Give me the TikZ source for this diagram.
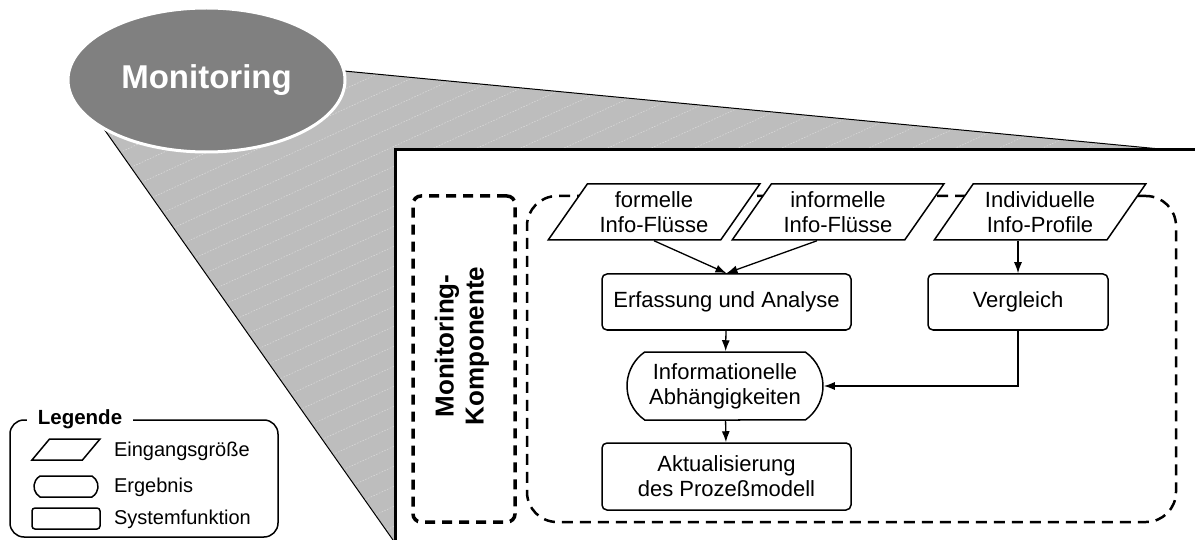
\documentclass[tikz,border=0pt]{standalone}
\usepackage{fontspec}
\setmainfont{Liberation Sans}
\usetikzlibrary{arrows.meta,shapes.geometric,shapes.misc}

\begin{document}
\begin{tikzpicture}[x=1pt, y=-1pt,
  font=\fontsize{22}{25}\selectfont,
  line width=1.5pt,
  keil/.style={fill=black!26},
  schraffur/.style={draw=black!15, line width=0.6pt, dash pattern=on 1.5pt off 1.5pt},
  titel/.style={ellipse, fill=black!50, draw=white, line width=3pt, text=white,
                minimum width=277, minimum height=144, font=\fontsize{33}{38}\selectfont\bfseries},
  eingang/.style={trapezium, trapezium left angle=53, trapezium right angle=127, trapezium stretches=true,
                  draw, fill=white, align=center, minimum width=212, minimum height=56, inner sep=1pt},
  sysfkt/.style={draw, fill=white, rounded corners=5pt, align=center, minimum height=56},
  ergebnis/.style={rounded rectangle, rounded rectangle arc length=110, draw, fill=white, align=center,
                   minimum width=200, minimum height=68, inner sep=2pt},
  komprahmen/.style={draw, line width=3.5pt, dash pattern=on 10pt off 7pt, rounded corners=8pt},
  bereich/.style={draw, line width=2.5pt, dash pattern=on 11pt off 7pt, rounded corners=30pt},
  pfeil/.style={-{Latex[length=11pt, width=8pt]}, line width=1.3pt}
]
\useasboundingbox (0,0) rectangle (1195,540);
\fill[keil] (344,71) -- (1160,149) -- (395,149) -- (395,540) -- (393,540) -- (104,129) -- cycle;
\begin{scope}
  \clip (344,71) -- (1160,149) -- (395,149) -- (395,540) -- (393,540) -- (104,129) -- cycle;
  \foreach \k in {0,...,52}
    \draw[schraffur] (60,60+\k*20) -- ++(1200,-552);
\end{scope}
\draw[line width=1pt] (344,71) -- (1160,149);
\draw[line width=1pt] (104,129) -- (393,540);
\fill[white] (395,150) rectangle (1195,540);
\draw[line width=3pt] (1195,150) -- (395,150) -- (395,540);
\node[titel] (mon) at (206.5,80) {Monitoring};

\node[komprahmen, minimum width=102, minimum height=326] (komp) at (464,359) {};
\node[rotate=90, align=center, font=\fontsize{26}{30}\selectfont\bfseries] (kompname) at (462,346) {Monitoring-\\Komponente};
\node[bereich, minimum width=649, minimum height=326] (ber) at (851.5,359) {};

\node[eingang] (formell) at (654,212) {formelle\\Info-Flüsse};
\node[eingang] (informell) at (838,212) {informelle\\Info-Flüsse};
\node[eingang] (individ) at (1040,212) {Individuelle\\Info-Profile};
\node[sysfkt, minimum width=249] (erfassung) at (726.5,302) {Erfassung und Analyse};
\node[sysfkt, minimum width=180] (vergleich) at (1018,302) {Vergleich};
\node[ergebnis] (abhaeng) at (725,386) {Informationelle\\Abhängigkeiten};
\node[sysfkt, minimum width=249, minimum height=67] (aktual) at (726.5,476.5) {Aktualisierung\\des Prozeßmodell};

\draw[pfeil] (formell.south) -- (erfassung.north);
\draw[pfeil] ([xshift=-21pt]informell.south) -- (erfassung.north);
\draw[pfeil] (individ.south -| vergleich.north) -- (vergleich.north);
\draw[pfeil] (erfassung) -- (abhaeng);
\draw[pfeil] (abhaeng) -- (aktual);
\draw[pfeil] (vergleich.south) |- (abhaeng.east);

\node[draw, rounded corners=14pt, minimum width=268, minimum height=117] (legende) at (144,478.5) {};
\node[fill=white, inner xsep=11pt, inner ysep=2pt, font=\fontsize{20.5}{24}\selectfont\bfseries] (legtitel) at (80,419) {Legende};
\node[eingang, trapezium left angle=62, trapezium right angle=118, minimum width=68, minimum height=21, inner sep=2pt] (legein) at (66,449.5) {};
\node[ergebnis, rounded rectangle arc length=120, minimum width=68, minimum height=21, inner sep=2pt] (legerg) at (66,486.5) {};
\node[sysfkt, rounded corners=3pt, minimum width=68, minimum height=21, inner sep=2pt] (legsys) at (66,518.5) {};
\node[anchor=west, font=\fontsize{20}{24}\selectfont] (legeintxt) at (110,451) {Eingangsgröße};
\node[anchor=west, font=\fontsize{20}{24}\selectfont] (legergtxt) at (110,487) {Ergebnis};
\node[anchor=west, font=\fontsize{20}{24}\selectfont] (legsystxt) at (110,519) {Systemfunktion};
\end{tikzpicture}
\end{document}
